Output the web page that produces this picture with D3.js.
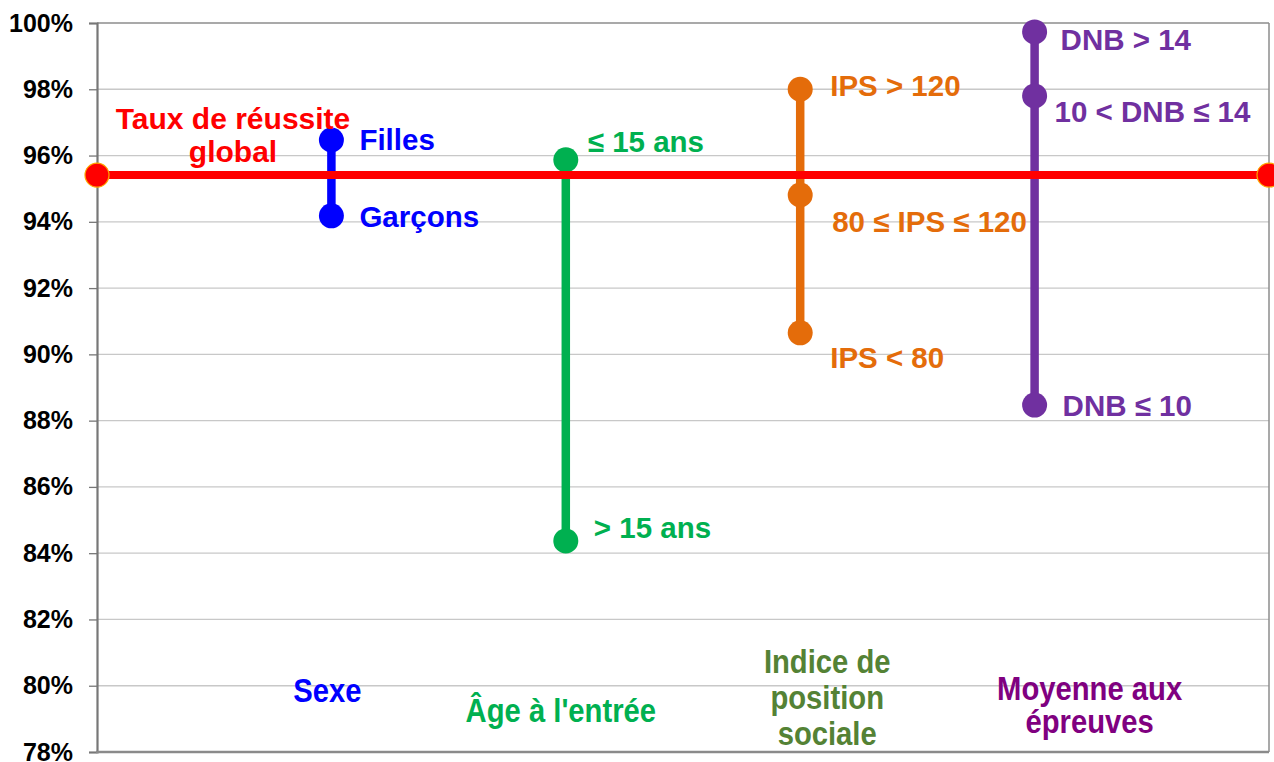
<!DOCTYPE html>
<html>
<head>
<meta charset="utf-8">
<script src="https://cdn.jsdelivr.net/npm/d3@7"></script>
<style>
  html, body { margin: 0; padding: 0; background: #fff; }
  svg { display: block; font-family: "Liberation Sans", Arial, sans-serif; font-weight: bold; }
</style>
</head>
<body>
<div id="chart"></div>
<script>
// taux de reussite par critere (en %)
const categories = ['Sexe', "Âge à l'entrée", 'Indice de position sociale', 'Moyenne aux épreuves'];
const categoryLines = [['Sexe'], ["Âge à l'entrée"], ['Indice de', 'position', 'sociale'], ['Moyenne aux', 'épreuves']];
const groupLabels = [
  ['Filles', 'Garçons'],
  ['≤ 15 ans', '> 15 ans'],
  ['IPS > 120', '80 ≤ IPS ≤ 120', 'IPS < 80'],
  ['DNB > 14', '10 < DNB ≤ 14', 'DNB ≤ 10'],
];
const groupValues = [
  [96.47, 94.18],
  [95.87, 84.37],
  [98.0, 94.81, 90.65],
  [99.73, 97.8, 88.47],
];
const globalRate = 95.41;
const globalLabel = ['Taux de réussite', 'global'];
const yTicks = [78, 80, 82, 84, 86, 88, 90, 92, 94, 96, 98, 100];

// mise en forme
const seriesColor = ['#0000ff', '#00b050', '#e46c0a', '#7030a0'];
const catColor = ['#0000ff', '#00b050', '#548235', '#800080'];
// decalage des etiquettes par rapport au point [dx, dy]
const labelOffset = [
  [[28, 10], [28, 11]],
  [[22, -8], [28, -3]],
  [[30, 7], [32, 37], [30, 35]],
  [[26, 18], [20, 26], [28, 11]],
];
const catBase = [[702], [722], [673, 709, 745], [700, 733]];
const catShift = [-4, -5, 27, 55];

const W = 1274, H = 762;
const m = { left: 97, right: 5, top: 23, bottom: 10 };

const svg = d3.select('#chart').append('svg').attr('width', W).attr('height', H);

const x = d3.scaleLinear().domain([0, categories.length + 1]).range([m.left, W - m.right]);
const y = d3.scaleLinear().domain([78, 100]).range([H - m.bottom, m.top]);

// grille
svg.append('g').selectAll('line').data(yTicks.slice(1, -1)).join('line')
  .attr('x1', m.left).attr('x2', W - m.right)
  .attr('y1', (d) => y(d)).attr('y2', (d) => y(d))
  .attr('stroke', '#c8c8c8').attr('stroke-width', 1.3);

// cadre haut / droite
svg.append('line').attr('x1', m.left).attr('x2', W - m.right).attr('y1', y(100)).attr('y2', y(100))
  .attr('stroke', '#8c8c8c').attr('stroke-width', 1.5);
svg.append('line').attr('x1', W - m.right).attr('x2', W - m.right).attr('y1', y(100)).attr('y2', y(78))
  .attr('stroke', '#8c8c8c').attr('stroke-width', 1.5);

// axe Y
const yAxis = d3.axisLeft(y).tickValues(yTicks).tickSize(8).tickPadding(16).tickFormat((d) => d + '%');
const ya = svg.append('g').attr('transform', `translate(${m.left},0)`).call(yAxis);
ya.select('.domain').attr('stroke', '#777').attr('stroke-width', 2.2);
ya.selectAll('.tick line').attr('stroke', '#777').attr('stroke-width', 1.3);
ya.selectAll('.tick text').attr('fill', '#000').attr('font-size', 25).attr('font-weight', 'bold')
  .attr('font-family', '"Liberation Sans", Arial, sans-serif');

// axe bas
svg.append('line').attr('x1', m.left - 1).attr('x2', W - m.right).attr('y1', y(78)).attr('y2', y(78))
  .attr('stroke', '#8a8a8a').attr('stroke-width', 2.5);

// series verticales
const groups = svg.append('g').selectAll('g').data(groupValues).join('g');
groups.append('line')
  .attr('x1', (d, i) => x(i + 1)).attr('x2', (d, i) => x(i + 1))
  .attr('y1', (d) => y(d3.max(d))).attr('y2', (d) => y(d3.min(d)))
  .attr('stroke', (d, i) => seriesColor[i]).attr('stroke-width', 8.5);
groups.each(function (vals, i) {
  const g = d3.select(this);
  g.selectAll('circle').data(vals).join('circle')
    .attr('cx', x(i + 1)).attr('cy', (d) => y(d)).attr('r', 12.5)
    .attr('fill', seriesColor[i]);
  g.selectAll('text').data(vals).join('text')
    .attr('x', (d, j) => x(i + 1) + labelOffset[i][j][0])
    .attr('y', (d, j) => y(d) + labelOffset[i][j][1])
    .attr('font-size', 29.5).attr('fill', seriesColor[i])
    .text((d, j) => groupLabels[i][j]);
});

// taux global
svg.append('line').attr('x1', x(0)).attr('x2', x(categories.length + 1))
  .attr('y1', y(globalRate)).attr('y2', y(globalRate))
  .attr('stroke', '#ff0000').attr('stroke-width', 8);
svg.append('g').selectAll('circle').data([0, categories.length + 1]).join('circle')
  .attr('cx', (d) => x(d)).attr('cy', y(globalRate)).attr('r', 12)
  .attr('fill', '#ff0000').attr('stroke', '#ffa500').attr('stroke-width', 1.2);
svg.append('text').attr('text-anchor', 'middle').attr('fill', '#ff0000').attr('font-size', 30)
  .selectAll('tspan').data(globalLabel).join('tspan')
  .attr('x', 233).attr('y', (d, i) => 129 + i * 33).text((d) => d);

// noms des categories (police etroite simulee par scaleX)
const cats = svg.append('g').selectAll('g').data(categoryLines).join('g')
  .attr('transform', (d, i) => `translate(${x(i + 1) + catShift[i]},0) scale(0.86,1)`);
cats.append('text').attr('text-anchor', 'middle')
  .attr('font-size', 34).attr('fill', (d, i) => catColor[i])
  .selectAll('tspan').data((d, i) => d.map((t, j) => ({ t, i, j }))).join('tspan')
  .attr('x', 0)
  .attr('y', (d) => catBase[d.i][d.j])
  .text((d) => d.t);
</script>
</body>
</html>
